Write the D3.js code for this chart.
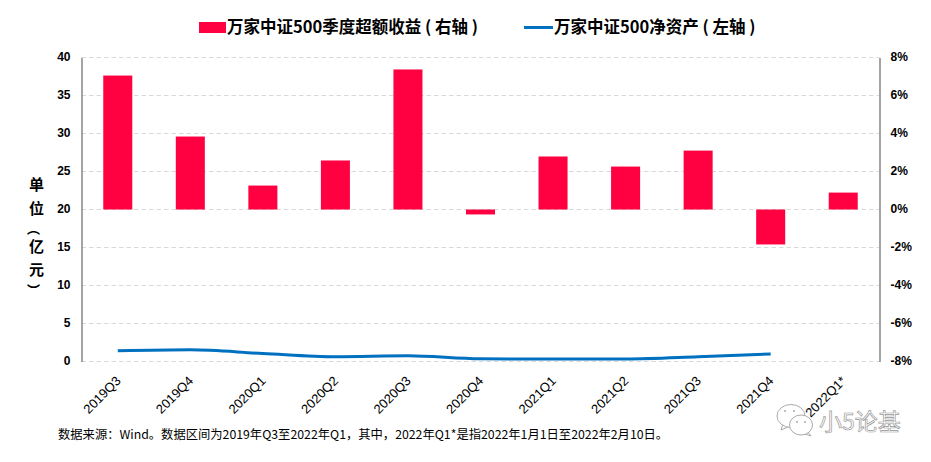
<!DOCTYPE html>
<html>
<head>
<meta charset="utf-8">
<script src="https://cdn.jsdelivr.net/npm/d3@7"></script>
<style>
  body { margin: 0; background: #fff; }
  svg { display: block; }
  text { fill: #000; }
</style>
</head>
<body>
<div id="chart"></div>
<script>
var quarters = ["2019Q3", "2019Q4", "2020Q1", "2020Q2", "2020Q3", "2020Q4", "2021Q1", "2021Q2", "2021Q3", "2021Q4", "2022Q1*"];
// right axis, percent
var excessReturn = [7.05, 3.84, 1.26, 2.58, 7.37, -0.26, 2.79, 2.26, 3.10, -1.84, 0.89];
// left axis, 100m yuan. no value yet for 2022Q1
var netAssets = [1.40, 1.53, 1.05, 0.62, 0.75, 0.35, 0.33, 0.33, 0.62, 1.00, null];
var leftTicks = [0, 5, 10, 15, 20, 25, 30, 35, 40];
var rightTicks = [-8, -6, -4, -2, 0, 2, 4, 6, 8];
// vertical forms of the brackets, the label reads top to bottom
var unitChars = ["单", "位", "︵", "亿", "元", "︶"];
var unitY = [190, 214, 233, 252, 275, 295];

var width = 931,
  height = 462,
  margin = { top: 57.5, right: 51.5, bottom: 100.5, left: 81.5 };

var cjk = "'Noto Sans CJK SC', sans-serif";
var latin = "'Liberation Sans', Arial, sans-serif";

var svg = d3.select("#chart").append("svg")
  .attr("width", width)
  .attr("height", height);

var x = d3.scaleBand()
  .domain(quarters)
  .range([margin.left, width - margin.right])
  .paddingInner(0.6)
  .paddingOuter(0.3);

var yLeft = d3.scaleLinear().domain([0, 40]).range([height - margin.bottom, margin.top]);
var yRight = d3.scaleLinear().domain([-8, 8]).range([height - margin.bottom, margin.top]);

// gridlines
svg.append("g").selectAll("line")
  .data(leftTicks)
  .join("line")
    .attr("x1", margin.left)
    .attr("x2", width - margin.right)
    .attr("y1", d => yLeft(d))
    .attr("y2", d => yLeft(d))
    .attr("stroke", "#d9d9d9")
    .attr("stroke-width", 1)
    .attr("stroke-dasharray", "4.5 3");

// bars
svg.append("g").selectAll("rect")
  .data(excessReturn)
  .join("rect")
    .attr("x", (d, i) => x(quarters[i]))
    .attr("y", d => yRight(Math.max(d, 0)))
    .attr("width", x.bandwidth())
    .attr("height", d => Math.abs(yRight(d) - yRight(0)))
    .attr("fill", "#ff0040");

// line
var line = d3.line()
  .defined(d => d !== null)
  .x((d, i) => x(quarters[i]) + x.bandwidth() / 2)
  .y(d => yLeft(d))
  .curve(d3.curveMonotoneX);

svg.append("path")
  .attr("d", line(netAssets))
  .attr("fill", "none")
  .attr("stroke", "#0070c0")
  .attr("stroke-width", 3);

// axes
var axisL = svg.append("g")
  .attr("transform", "translate(" + margin.left + ",0)")
  .call(d3.axisLeft(yLeft).tickValues(leftTicks).tickSize(0).tickPadding(11));
var axisR = svg.append("g")
  .attr("transform", "translate(" + (width - margin.right) + ",0)")
  .call(d3.axisRight(yRight).tickValues(rightTicks).tickSize(0).tickPadding(11).tickFormat(d => d + "%"));

[axisL, axisR].forEach(function(a) {
  a.select(".domain").attr("stroke", "#868686").attr("stroke-width", 1.5);
  a.selectAll("text")
    .style("font-family", latin)
    .style("font-size", "12px")
    .style("font-weight", "bold")
    .attr("dy", "0.27em");
});

var axisB = svg.append("g")
  .attr("transform", "translate(0," + (height - margin.bottom) + ")")
  .call(d3.axisBottom(x).tickSize(0).tickPadding(0));
axisB.select(".domain").remove();
axisB.selectAll("text")
  .style("font-family", latin)
  .style("font-size", "13px")
  .attr("text-anchor", "end")
  .attr("transform", "translate(0.5,17) rotate(-45)")
  .attr("dy", "0.35em");

// legend
svg.append("rect")
  .attr("x", 199).attr("y", 22)
  .attr("width", 27).attr("height", 11)
  .attr("fill", "#ff0040");
svg.append("text")
  .attr("x", 227).attr("y", 33)
  .style("font-family", cjk)
  .style("font-size", "16.5px")
  .style("font-weight", "bold")
  .text("万家中证500季度超额收益 ( 右轴 )");
svg.append("line")
  .attr("x1", 524).attr("x2", 553)
  .attr("y1", 27.5).attr("y2", 27.5)
  .attr("stroke", "#0070c0")
  .attr("stroke-width", 3);
svg.append("text")
  .attr("x", 554).attr("y", 33)
  .style("font-family", cjk)
  .style("font-size", "16.5px")
  .style("font-weight", "bold")
  .text("万家中证500净资产 ( 左轴 )");

// unit label, stacked by hand
svg.append("g").selectAll("text")
  .data(unitChars)
  .join("text")
    .attr("text-anchor", "middle")
    .attr("x", (d, i) => (i === 2 || i === 5) ? 33.5 : 36.5)
    .attr("y", (d, i) => unitY[i])
    .style("font-family", cjk)
    .style("font-size", (d, i) => (i === 2 || i === 5) ? "13px" : "15px")
    .style("font-weight", "bold")
    .text(d => d);

// source note
svg.append("text")
  .attr("x", 58).attr("y", 439)
  .style("font-family", cjk)
  .style("font-size", "12.3px")
  .text("数据来源：Wind。数据区间为2019年Q3至2022年Q1，其中，2022年Q1*是指2022年1月1日至2022年2月10日。");

// watermark
var mark = svg.append("g").attr("fill", "#fff").attr("stroke", "#aaa").attr("stroke-width", 1);
mark.append("path").attr("d", "M783,424 L781,430 L788,427 Z");
mark.append("ellipse").attr("cx", 791).attr("cy", 416).attr("rx", 14).attr("ry", 11.5);
mark.append("path").attr("d", "M807,431 L811,436 L802,433 Z");
mark.append("ellipse").attr("cx", 801).attr("cy", 425).attr("rx", 11.5).attr("ry", 10);
mark.selectAll("circle")
  .data([[785, 411], [794, 411], [797, 422], [805, 422]])
  .join("circle")
    .attr("cx", d => d[0])
    .attr("cy", d => d[1])
    .attr("r", 1)
    .attr("fill", "#aaa")
    .attr("stroke", "none");
svg.append("text")
  .attr("x", 819).attr("y", 430)
  .attr("stroke", "#999")
  .attr("stroke-width", 0.7)
  .style("fill", "#fff")
  .style("font-family", cjk)
  .style("font-size", "23px")
  .text("小5论基");
</script>
</body>
</html>
